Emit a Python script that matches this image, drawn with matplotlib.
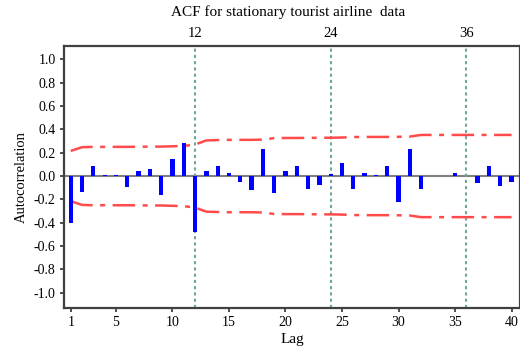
import matplotlib
matplotlib.use('Agg')
import matplotlib.pyplot as plt
import numpy as np

# ACF values, lags 1..40
lags = np.arange(1, 41)
acf = [-0.40, -0.137, 0.086, 0.005, 0.005, -0.09, 0.043, 0.057, -0.166, 0.143,
       0.283, -0.478, 0.043, 0.086, 0.03, -0.05, -0.12, 0.229, -0.149, 0.043,
       0.086, -0.109, -0.08, 0.02, 0.114, -0.109, 0.03, 0.005, 0.086, -0.223,
       0.229, -0.109, 0.004, 0.004, 0.03, 0.004, -0.057, 0.086, -0.086, -0.05]
# upper confidence band (lower one is the mirror)
band = [0.215, 0.247, 0.25, 0.25, 0.25, 0.25, 0.251, 0.252, 0.252, 0.255,
        0.258, 0.27, 0.305, 0.308, 0.31, 0.31, 0.31, 0.312, 0.325, 0.326,
        0.326, 0.327, 0.328, 0.328, 0.33, 0.334, 0.335, 0.335, 0.335, 0.336,
        0.338, 0.352, 0.352, 0.352, 0.352, 0.352, 0.352, 0.352, 0.352, 0.352]
season_lags = [12, 24, 36]
x_ticks = [1, 5, 10, 15, 20, 25, 30, 35, 40]

plt.rcParams['font.family'] = ['Liberation Serif', 'DejaVu Serif']
plt.rcParams['axes.unicode_minus'] = False

fig = plt.figure(figsize=(5.2, 3.5), dpi=100)
ax = fig.add_axes([0.123, 0.12, 0.877, 0.749])

ax.axhline(0, color='#808080', lw=1.5, zorder=1)
ax.bar(lags, acf, width=0.38, color='#0000ff', zorder=3)

band = np.array(band)
ax.plot(lags, band, color='#ff4b4b', lw=1.8, ls=(0, (9, 3, 2, 3)), zorder=2)
ax.plot(lags, -band, color='#ff4b4b', lw=1.8, ls=(0, (9, 3, 2, 3)), zorder=2)

for s in season_lags:
    ax.axvline(s, color='#6fa89a', lw=1.5, ls=(0, (1.5, 1.5)), zorder=1)

ax.set_xlim(0.4, 40.75)
ax.set_ylim(-1.13, 1.115)
ax.set_xticks(x_ticks)
ax.set_yticks(np.arange(-1.0, 1.01, 0.2))
ax.set_yticklabels(['%.1f' % v if abs(v) > 1e-9 else '0.0' for v in np.arange(-1.0, 1.01, 0.2)])
ax.tick_params(labelsize=10, length=3, width=1.2, color='#303030', pad=3)

for sp in ax.spines.values():
    sp.set_color('#404040')
    sp.set_linewidth(1.6)

top = ax.secondary_xaxis('top')
top.set_xticks(season_lags)
top.tick_params(length=0, labelsize=10.5, pad=4)
top.spines['top'].set_visible(False)

ax.set_xlabel('Lag', fontsize=11, labelpad=3)
ax.set_ylabel('Autocorrelation', fontsize=10.5, labelpad=4)
fig.text(0.555, 0.965, 'ACF for stationary tourist airline  data', fontsize=11,
         ha='center', va='center')

plt.savefig('out.png', dpi=100)
